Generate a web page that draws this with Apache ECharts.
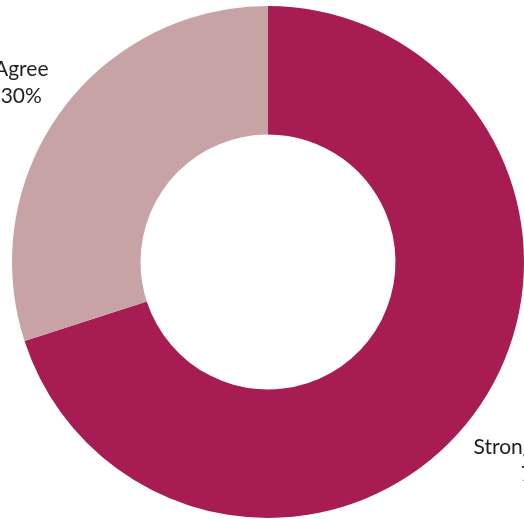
<!DOCTYPE html>
<html>
<head>
<meta charset="utf-8">
<style>
  html, body { margin: 0; padding: 0; background: #ffffff; }
  #chart { width: 524px; height: 519px; }
</style>
<script src="https://cdn.jsdelivr.net/npm/echarts@6/dist/echarts.min.js"></script>
</head>
<body>
<div id="chart"></div>
<script>
// Survey responses (percent)
const categories = ['Strongly Agree', 'Agree'];
const values = [70, 30];
const colors = ['#A61C53', '#C7A3A6'];
// distance of each label beyond the outer edge
const labelOffsets = [82, 49];

const chart = echarts.init(document.getElementById('chart'), null, { renderer: 'canvas' });

const data = categories.map((name, i) => ({
  name: name,
  value: values[i],
  itemStyle: { color: colors[i] },
  labelLine: { length: labelOffsets[i] }
}));

chart.setOption({
  animation: false,
  series: [{
    type: 'pie',
    center: [268, 262],
    radius: [127.5, 256],
    startAngle: 90,
    clockwise: true,
    avoidLabelOverlap: false,
    data: data,
    label: {
      show: true,
      position: 'outside',
      formatter: '{b}\n{c}%',
      fontFamily: 'Lato, sans-serif',
      fontSize: 21,
      lineHeight: 27,
      color: '#1f1f1f',
      overflow: 'none'
    },
    labelLine: {
      show: true,
      length2: 0,
      lineStyle: { opacity: 0 }
    },
    labelLayout: function (params) {
      const pts = params.labelLinePoints;
      if (!pts) return {};
      return {
        x: pts[1][0],
        y: pts[1][1],
        align: 'center',
        verticalAlign: 'middle'
      };
    },
    emphasis: { disabled: true }
  }]
});
</script>
</body>
</html>
